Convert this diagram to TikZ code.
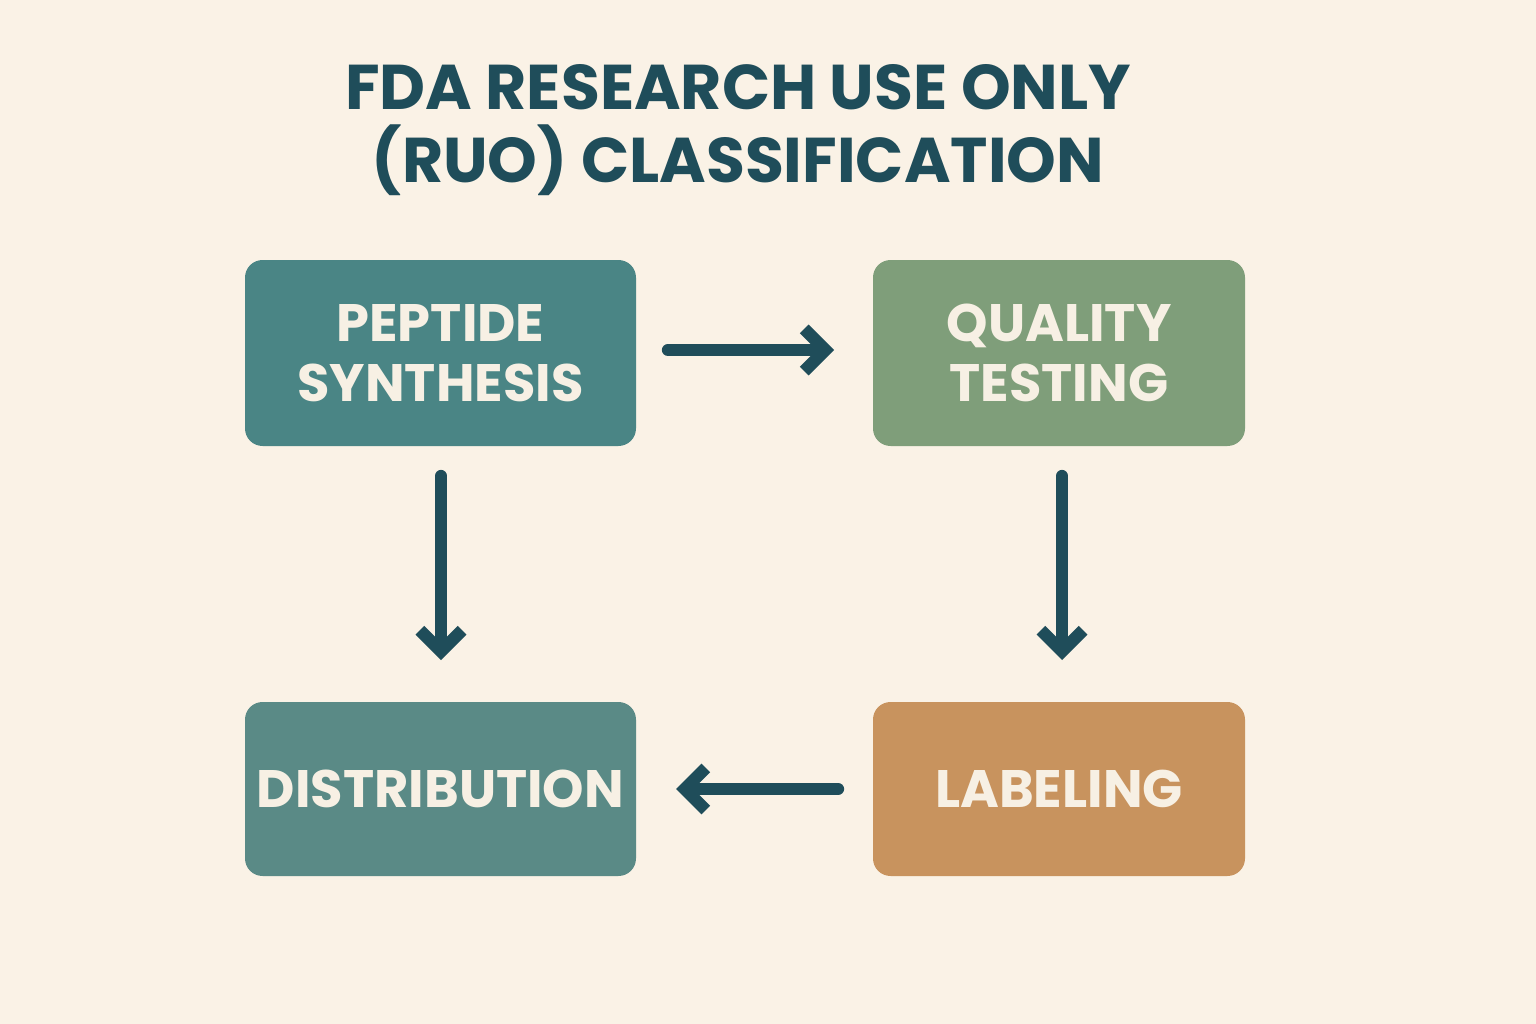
\documentclass[tikz,border=0pt]{standalone}
\usepackage{fontspec}
\setmainfont{Poppins}
\usetikzlibrary{arrows.meta}
\definecolor{bg}{HTML}{FAF2E6}
\definecolor{ink}{HTML}{1F4D5A}
\definecolor{cteal}{HTML}{4A8585}
\definecolor{cgreen}{HTML}{7F9E7A}
\definecolor{cdist}{HTML}{5A8A86}
\definecolor{clab}{HTML}{C8935E}
\definecolor{txt}{HTML}{F7F0E4}
\begin{document}
\begin{tikzpicture}[x=0.02cm,y=-0.02cm,
  stepbox/.style={rounded corners=10pt,inner sep=0pt,text=txt,font=\fontsize{30}{34}\selectfont\bfseries,align=center},
  conn/.style={draw=ink,line width=7pt,line cap=round,-{Straight Barb[length=12pt,width=24pt,line width=7pt]}}]
\fill[bg] (0,0) rectangle (1536,1024);
\useasboundingbox (0,0) rectangle (1536,1024);
\node[text=ink,font=\fontsize{36}{42}\selectfont\bfseries,align=center] (title) at (738,130) {FDA RESEARCH USE ONLY\\(RUO) CLASSIFICATION};
\node[stepbox,fill=cteal,minimum width=391*0.02cm,minimum height=186*0.02cm] (pep) at (440.5,353) {PEPTIDE\\SYNTHESIS};
\node[stepbox,fill=cgreen,minimum width=372*0.02cm,minimum height=186*0.02cm] (qual) at (1059,353) {QUALITY\\TESTING};
\node[stepbox,fill=cdist,minimum width=391*0.02cm,minimum height=174*0.02cm] (dist) at (440.5,789) {DISTRIBUTION};
\node[stepbox,fill=clab,minimum width=372*0.02cm,minimum height=174*0.02cm] (lab) at (1059,789) {LABELING};
\coordinate (a1) at (668,350); \coordinate (a2) at (834,350);
\coordinate (b1) at (441,476); \coordinate (b2) at (441,660);
\coordinate (c1) at (1062,476); \coordinate (c2) at (1062,660);
\coordinate (d1) at (838,789); \coordinate (d2) at (676,789);
\draw[conn] (a1) -- (a2);
\draw[conn] (b1) -- (b2);
\draw[conn] (c1) -- (c2);
\draw[conn] (d1) -- (d2);
\end{tikzpicture}
\end{document}
